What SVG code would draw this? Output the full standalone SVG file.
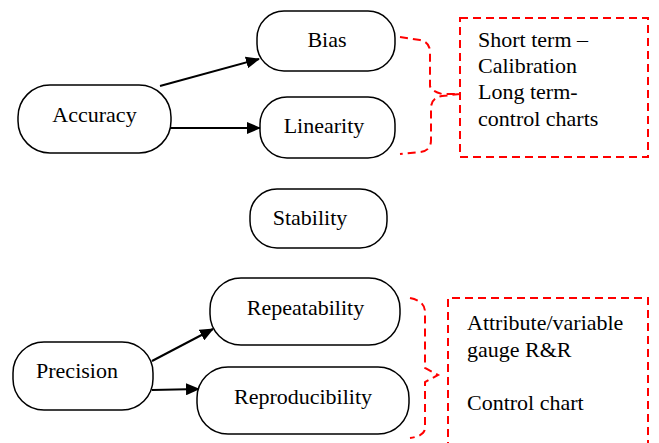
<svg xmlns="http://www.w3.org/2000/svg" width="659" height="443" viewBox="0 0 659 443">
<style>
.n{fill:#fff;stroke:#000;stroke-width:1.5}
.t{font-family:'Liberation Serif','Times New Roman',Times,serif;font-size:22px;fill:#000}
.c{text-anchor:middle}
.e{stroke:#000;stroke-width:2;fill:none;marker-end:url(#ah)}
.r{stroke:#f00;stroke-width:2;fill:none;stroke-dasharray:8 5}
</style>
<defs>
<marker id="ah" markerUnits="userSpaceOnUse" markerWidth="14" markerHeight="12" refX="13" refY="6" orient="auto">
<path d="M0,0 L14,6 L0,12 Z" fill="#000"/>
</marker>
</defs>
<g id="connectors">
<path class="e" d="M160,86 L259,59"/>
<path class="e" d="M166,128 L260,128"/>
<path class="e" d="M152,361 L213,329"/>
<path class="e" d="M152,390 L199,389"/>
<path class="r" d="M400,37 L420,40 Q430,42 430,52 L430,86 Q431,91 442,94 L460,94 L442,96 Q431,98 431,108 L431,140 Q431,151 420,152 L400,154"/>
<path class="r" d="M410,298 Q425,301 425,312 L425,368 L438,375 L425,382 L425,428 Q425,436 410,438"/>
</g>
<g id="accuracy"><rect class="n" x="18" y="85" width="153" height="68" rx="32"/><text class="t c" x="94.5" y="122" font-family="Liberation Serif, serif">Accuracy</text></g>
<g id="bias"><rect class="n" x="257" y="11" width="138" height="60" rx="27"/><text class="t c" x="327" y="47">Bias</text></g>
<g id="linearity"><rect class="n" x="260" y="97" width="135" height="61" rx="27"/><text class="t c" x="324" y="133">Linearity</text></g>
<g id="stability"><rect class="n" x="250" y="189" width="137" height="59" rx="27"/><text class="t c" x="310" y="225">Stability</text></g>
<g id="precision"><rect class="n" x="13" y="342" width="140" height="68" rx="31"/><text class="t c" x="77" y="378">Precision</text></g>
<g id="repeatability"><rect class="n" x="210" y="278" width="190" height="67" rx="31"/><text class="t c" x="305.5" y="315">Repeatability</text></g>
<g id="reproducibility"><rect class="n" x="197" y="367" width="212" height="67" rx="31"/><text class="t c" x="303" y="404">Reproducibility</text></g>
<g id="note1"><rect class="r" x="460" y="18" width="188" height="139"/>
<text class="t" x="478" y="47">Short term –</text>
<text class="t" x="478" y="73">Calibration</text>
<text class="t" x="478" y="99">Long term-</text>
<text class="t" x="478" y="126">control charts</text></g>
<g id="note2"><path class="r" d="M448,450 L448,298 L648,298 L648,450"/>
<text class="t" x="467" y="330">Attribute/variable</text>
<text class="t" x="467" y="357">gauge R&amp;R</text>
<text class="t" x="467" y="410">Control chart</text></g>
</svg>
